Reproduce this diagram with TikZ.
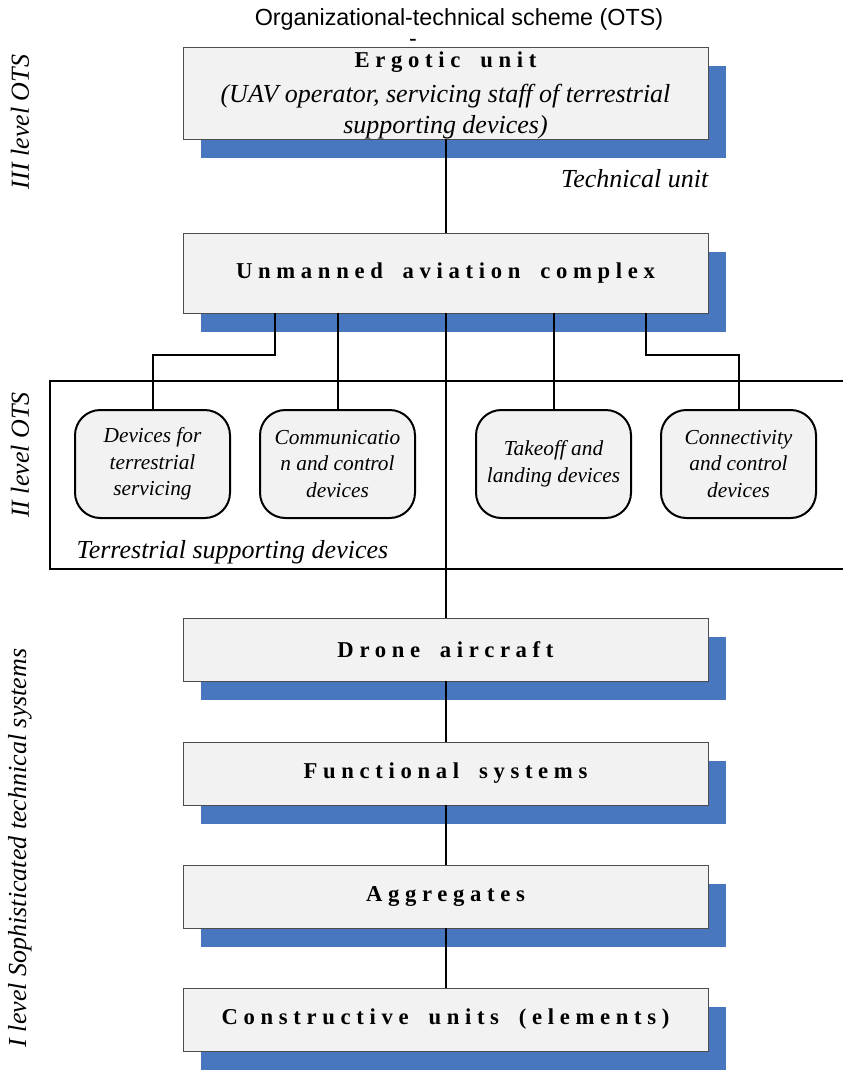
\documentclass[tikz,border=0pt]{standalone}
\usepackage{fontspec}
\setmainfont{Liberation Serif}
\newfontfamily\titlefont{Liberation Sans}
\newfontfamily\spacedfont[LetterSpace=25,WordSpace=1.75]{Liberation Serif}
\usetikzlibrary{shadows}

\definecolor{shadowblue}{RGB}{72,118,191}
\definecolor{boxgray}{RGB}{242,242,242}

\tikzset{
  unitbox/.style={draw=black!70, fill=boxgray, line width=0.6pt,
    minimum width=393.75pt, align=center, inner sep=0pt,
    drop shadow={shadow xshift=13.5pt, shadow yshift=-14pt, fill=shadowblue, opacity=1},
    font=\spacedfont\bfseries\fontsize{17}{20}\selectfont},
  devbox/.style={draw, fill=boxgray, line width=1.5pt, rounded corners=19pt,
    minimum width=116.25pt, minimum height=81pt, align=center, inner sep=2pt,
    font=\itshape\fontsize{16}{20}\selectfont},
  link/.style={line width=1.5pt},
  sidelabel/.style={rotate=90, font=\itshape\fontsize{19.5}{22}\selectfont},
  note/.style={font=\itshape\fontsize{19.5}{22}\selectfont}
}
\newcommand\ergonote{\normalfont\itshape\fontsize{19.5}{22.5}\selectfont}

\begin{document}
\begin{tikzpicture}[x=0.75pt,y=-0.75pt]
  \useasboundingbox (0,0) rectangle (843,1071);

  % heading
  \node[font=\titlefont\fontsize{17.5}{20}\selectfont, inner sep=0pt] (title) at (459,19) {Organizational-technical scheme (OTS)};
  \node[font=\titlefont\fontsize{17.5}{20}\selectfont, inner sep=0pt] (dash) at (413,43) {-};

  % levels on the left
  \node[sidelabel] (lvl3) at (20,122) {III level OTS};
  \node[sidelabel] (lvl2) at (20,455) {II level OTS};
  \node[sidelabel] (lvl1) at (20,848) {I level Sophisticated technical systems};

  % main units
  \node[unitbox, minimum height=69pt] (ergo) at (445.5,93)
    {\rule{0pt}{15.5pt}Ergotic unit\\[6pt]
     \ergonote (UAV operator, servicing staff of terrestrial\\[3pt]
     \ergonote supporting devices)};
  \node[note, anchor=east] (techlbl) at (713,179) {Technical unit};
  \node[unitbox, minimum height=60pt] (uac) at (445.5,273) {Unmanned aviation complex};
  \node[unitbox, minimum height=47.25pt] (drone) at (445.5,649.5) {Drone aircraft};
  \node[unitbox, minimum height=47.25pt] (func) at (445.5,773.5) {Functional systems};
  \node[unitbox, minimum height=47.25pt] (aggr) at (445.5,896.5) {Aggregates};
  \node[unitbox, minimum height=47.25pt] (cons) at (445.5,1019.5) {Constructive units (elements)};

  % terrestrial supporting devices
  \draw[link] (843,381) -- (50,381) -- (50,569) -- (843,569);
  \node[note, anchor=west] (tsdlbl) at (72,552) {Terrestrial supporting devices};
  \foreach \n/\x/\txt in {dev1/152.5/{Devices for\\terrestrial\\servicing},
                          dev2/337.5/{Communicatio\\n and control\\devices},
                          dev3/553.5/{Takeoff and\\landing devices},
                          dev4/738.5/{Connectivity\\and control\\devices}} {
    \node[devbox] (\n) at (\x,464) {\txt};
  }

  % connectors
  \draw[link] (ergo) -- (uac);
  \draw[link] (uac) -- (drone);
  \foreach \a/\b in {drone/func, func/aggr, aggr/cons} {
    \draw[link] (\a) -- (\b);
  }
  \coordinate (k1) at (275,355);
  \coordinate (k4) at (646,355);
  \draw[link] (uac.south -| k1) -- (k1) -| (dev1.north);
  \draw[link] (uac.south -| dev2.north) -- (dev2.north);
  \draw[link] (uac.south -| dev3.north) -- (dev3.north);
  \draw[link] (uac.south -| k4) -- (k4) -| (dev4.north);
\end{tikzpicture}
\end{document}
